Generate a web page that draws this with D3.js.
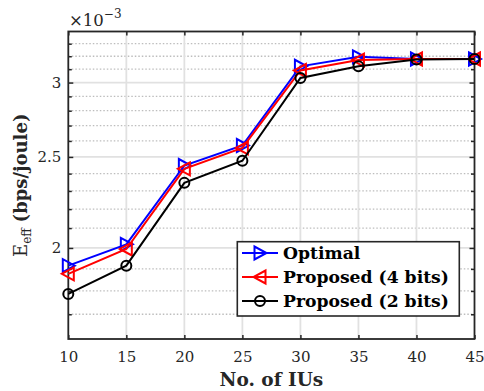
<!DOCTYPE html>
<html>
<head>
<meta charset="utf-8">
<script src="https://cdn.jsdelivr.net/npm/d3@7"></script>
<style>
  html, body { margin: 0; padding: 0; background: #fff; }
  svg { display: block; }
  .tick text { font-family: "DejaVu Serif", serif; font-size: 15px; fill: #262626; }
</style>
</head>
<body>
<svg id="chart" width="484" height="391"></svg>
<script>
// Energy efficiency (×10^-3 bps/joule) versus number of IUs
const iuCounts  = [10, 15, 20, 25, 30, 35, 40, 45];
const optimal   = [1.915, 2.018, 2.448, 2.571, 3.122, 3.195, 3.178, 3.178];
const proposed4 = [1.877, 1.995, 2.428, 2.556, 3.090, 3.170, 3.178, 3.178];
const proposed2 = [1.787, 1.915, 2.346, 2.477, 3.034, 3.122, 3.175, 3.178];

const xTickValues = [10, 15, 20, 25, 30, 35, 40, 45];
const yMajorTicks = [2, 2.5, 3];
const yMinorTicks = [1.7, 1.8, 1.9, 2.1, 2.2, 2.3, 2.4, 2.6, 2.7, 2.8, 2.9, 3.1, 3.2, 3.3];
const legendNames = ["Optimal", "Proposed (4 bits)", "Proposed (2 bits)"];

const series = [
  { name: legendNames[0], values: optimal,   color: "#0000ff", marker: "right" },
  { name: legendNames[1], values: proposed4, color: "#ff0000", marker: "left" },
  { name: legendNames[2], values: proposed2, color: "#000000", marker: "circle" }
];

const svg = d3.select("#chart");
const plot = { left: 68.3, right: 474.5, top: 31.5, bottom: 339 };

const x = d3.scaleLinear().domain([10, 45]).range([plot.left, plot.right]);
const y = d3.scaleLog().domain([1.6, 3.4]).range([plot.bottom, plot.top]);

const axisColor = "#262626";

// background
svg.append("rect").attr("x", plot.left).attr("y", plot.top)
  .attr("width", plot.right - plot.left).attr("height", plot.bottom - plot.top)
  .attr("fill", "#fff");

// grid
const grid = svg.append("g");
grid.selectAll(".ymin").data(yMinorTicks).join("line")
  .attr("x1", plot.left).attr("x2", plot.right)
  .attr("y1", d => y(d)).attr("y2", d => y(d))
  .attr("stroke", "#bdbdbd").attr("stroke-width", 1.3)
  .attr("stroke-dasharray", "1.5,2");
grid.selectAll(".xmaj").data(xTickValues.slice(1, -1)).join("line")
  .attr("x1", d => x(d)).attr("x2", d => x(d))
  .attr("y1", plot.top).attr("y2", plot.bottom)
  .attr("stroke", "#e1e1e1").attr("stroke-width", 1.8);
grid.selectAll(".ymaj").data(yMajorTicks).join("line")
  .attr("x1", plot.left).attr("x2", plot.right)
  .attr("y1", d => y(d)).attr("y2", d => y(d))
  .attr("stroke", "#e1e1e1").attr("stroke-width", 1.8);

// axes with inward ticks
const xAxis = svg.append("g").attr("transform", `translate(0,${plot.bottom})`)
  .call(d3.axisBottom(x).tickValues(xTickValues).tickFormat(d3.format("d"))
    .tickSizeInner(-4).tickSizeOuter(0).tickPadding(12));
const xTop = svg.append("g").attr("transform", `translate(0,${plot.top})`)
  .call(d3.axisTop(x).tickValues(xTickValues).tickFormat("")
    .tickSizeInner(-4).tickSizeOuter(0));
const yAxis = svg.append("g").attr("transform", `translate(${plot.left},0)`)
  .call(d3.axisLeft(y).tickValues(yMajorTicks).tickFormat(d => String(d))
    .tickSizeInner(-5).tickSizeOuter(0).tickPadding(7));
const yMinor = svg.append("g").attr("transform", `translate(${plot.left},0)`)
  .call(d3.axisLeft(y).tickValues(yMinorTicks).tickFormat("")
    .tickSizeInner(-3.5).tickSizeOuter(0));
const yRight = svg.append("g").attr("transform", `translate(${plot.right},0)`)
  .call(d3.axisRight(y).tickValues(yMajorTicks).tickFormat("")
    .tickSizeInner(-5).tickSizeOuter(0));
const yRightMinor = svg.append("g").attr("transform", `translate(${plot.right},0)`)
  .call(d3.axisRight(y).tickValues(yMinorTicks).tickFormat("")
    .tickSizeInner(-3.5).tickSizeOuter(0));

[xAxis, xTop, yAxis, yMinor, yRight, yRightMinor].forEach(g => {
  g.select(".domain").remove();
  g.selectAll(".tick line").attr("stroke", axisColor).attr("stroke-width", 1.5);
});
xAxis.selectAll(".tick text").attr("dy", "0.71em");

// frame
svg.append("rect").attr("x", plot.left).attr("y", plot.top)
  .attr("width", plot.right - plot.left).attr("height", plot.bottom - plot.top)
  .attr("fill", "none").attr("stroke", axisColor).attr("stroke-width", 1.8);

// markers
function drawMarker(sel, type, color) {
  if (type === "circle") {
    sel.append("circle").attr("r", 5).attr("fill", "none")
      .attr("stroke", color).attr("stroke-width", 2);
  } else {
    const pts = type === "right"
      ? [[-5.5, -6.5], [-5.5, 6.5], [6.5, 0]]
      : [[5.5, -6.5], [5.5, 6.5], [-6.5, 0]];
    sel.append("path").attr("d", "M" + pts.map(p => p.join(",")).join("L") + "Z")
      .attr("fill", "none").attr("stroke", color).attr("stroke-width", 2)
      .attr("stroke-linejoin", "miter");
  }
}

const line = d3.line().x((d, i) => x(iuCounts[i])).y(d => y(d));
series.forEach(s => {
  const g = svg.append("g");
  g.append("path").datum(s.values).attr("d", line)
    .attr("fill", "none").attr("stroke", s.color).attr("stroke-width", 2);
  s.values.forEach((v, i) => {
    const m = g.append("g").attr("transform", `translate(${x(iuCounts[i])},${y(v)})`);
    drawMarker(m, s.marker, s.color);
  });
});

// legend
const legend = svg.append("g");
legend.append("rect").attr("x", 237.3).attr("y", 241.7).attr("width", 222).attr("height", 74.3)
  .attr("fill", "#fff").attr("stroke", axisColor).attr("stroke-width", 1.6);
series.forEach((s, i) => {
  const cy = 253 + i * 24;
  legend.append("line").attr("x1", 242).attr("x2", 278).attr("y1", cy).attr("y2", cy)
    .attr("stroke", s.color).attr("stroke-width", 2);
  const m = legend.append("g").attr("transform", `translate(260,${cy})`);
  drawMarker(m, s.marker, s.color);
  legend.append("text").attr("x", 283).attr("y", cy + 6)
    .attr("font-family", "DejaVu Serif, serif").attr("font-weight", "bold")
    .attr("font-size", 17.2).attr("fill", "#000").text(s.name);
});

// axis labels
svg.append("text").attr("x", (plot.left + plot.right) / 2).attr("y", 386)
  .attr("text-anchor", "middle").attr("font-family", "DejaVu Serif, serif")
  .attr("font-weight", "bold").attr("font-size", 18.5).attr("fill", "#262626")
  .text("No. of IUs");

const yl = svg.append("text")
  .attr("transform", `translate(27,${(plot.top + plot.bottom) / 2}) rotate(-90)`)
  .attr("text-anchor", "middle").attr("font-family", "DejaVu Serif, serif")
  .attr("font-size", 18).attr("fill", "#262626");
yl.append("tspan").text("E");
yl.append("tspan").attr("font-size", 12).attr("dy", 4).text("eff");
yl.append("tspan").attr("dy", -4).text(" ");
yl.append("tspan").attr("font-weight", "bold").text("(bps/joule)");

// exponent marker
const ex = svg.append("text").attr("x", 69).attr("y", 25.5)
  .attr("font-family", "DejaVu Serif, serif").attr("font-size", 16.5).attr("fill", "#262626");
ex.append("tspan").text("×10");
ex.append("tspan").attr("font-size", 12).attr("dy", -8).text("−3");
</script>
</body>
</html>
